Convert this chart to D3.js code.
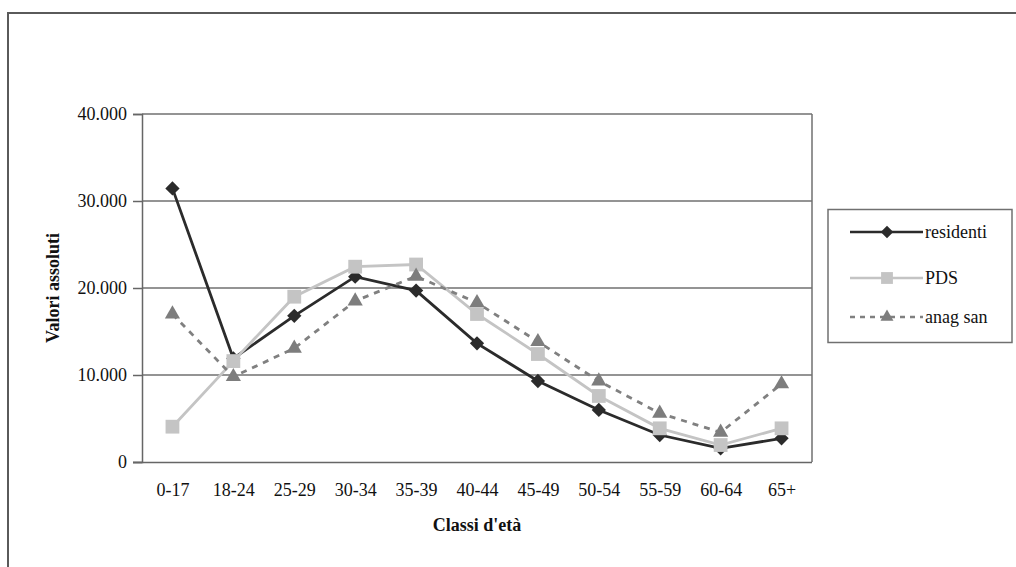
<!DOCTYPE html>
<html>
<head>
<meta charset="utf-8">
<script src="https://cdn.jsdelivr.net/npm/d3@7"></script>
<style>
  html, body { margin: 0; padding: 0; background: #fff; }
  svg { display: block; }
  text { font-family: "Liberation Serif", "Times New Roman", serif; fill: #111; }
</style>
</head>
<body>
<svg id="chart" width="1016" height="567"></svg>
<script>
// Age classes and the three population counts per class
const categories = ["0-17", "18-24", "25-29", "30-34", "35-39", "40-44", "45-49", "50-54", "55-59", "60-64", "65+"];
const residenti = [31450, 11900, 16800, 21300, 19700, 13640, 9310, 5980, 3100, 1570, 2720];
const pds       = [4060, 11600, 19000, 22450, 22700, 17010, 12410, 7590, 3870, 1950, 3870];
const anagSan   = [17000, 9800, 13070, 18500, 21350, 18310, 13830, 9310, 5600, 3410, 8970];
const yTicks = [0, 10000, 20000, 30000, 40000];
const seriesNames = ["residenti", "PDS", "anag san"];

const svg = d3.select("#chart");
const W = 1016, H = 567;
const FS = 18;

// frame around the whole chart
svg.append("rect")
  .attr("x", 8).attr("y", 13)
  .attr("width", W + 40).attr("height", H + 40)
  .attr("fill", "none").attr("stroke", "#5a5a5a").attr("stroke-width", 2);

const plot = { left: 142, right: 812, top: 114, bottom: 462 };

const x = d3.scalePoint()
  .domain(categories)
  .range([plot.left, plot.right])
  .padding(0.5);

const y = d3.scaleLinear()
  .domain([0, 40000])
  .range([plot.bottom, plot.top]);

const it = d3.formatLocale({ decimal: ",", thousands: ".", grouping: [3], currency: ["€", ""] });
const fmt = it.format(",.0f");

// horizontal gridlines
svg.append("g")
  .selectAll("line")
  .data(yTicks.filter(d => d > 0))
  .join("line")
  .attr("x1", plot.left).attr("x2", plot.right)
  .attr("y1", d => y(d)).attr("y2", d => y(d))
  .attr("stroke", "#707070").attr("stroke-width", 1.5);

// plot area right edge
svg.append("line")
  .attr("x1", plot.right).attr("x2", plot.right)
  .attr("y1", plot.top).attr("y2", plot.bottom)
  .attr("stroke", "#707070").attr("stroke-width", 1.5);

// y axis
const yAxis = d3.axisLeft(y).tickValues(yTicks).tickSize(9).tickPadding(6).tickFormat(fmt);
const gy = svg.append("g").attr("transform", `translate(${plot.left},0)`).call(yAxis);
gy.attr("font-family", null).attr("font-size", null);
gy.select(".domain").attr("stroke", "#666").attr("stroke-width", 1.5);
gy.selectAll(".tick line").attr("stroke", "#666").attr("stroke-width", 1.5);
gy.selectAll(".tick text").attr("font-size", FS).attr("fill", "#111");

// x axis
const xAxis = d3.axisBottom(x).tickSize(0).tickPadding(21);
const gx = svg.append("g").attr("transform", `translate(0,${plot.bottom})`).call(xAxis);
gx.attr("font-family", null).attr("font-size", null);
gx.select(".domain").attr("stroke", "#666").attr("stroke-width", 1.5)
  .attr("d", `M${plot.left - 9},0.5H${plot.right}`);
gx.selectAll(".tick text").attr("font-size", FS).attr("fill", "#111");

// axis titles
svg.append("text")
  .attr("x", (plot.left + plot.right) / 2).attr("y", 531)
  .attr("text-anchor", "middle")
  .attr("font-size", FS).attr("font-weight", "bold")
  .text("Classi d'età");

svg.append("text")
  .attr("transform", `translate(59,${(plot.top + plot.bottom) / 2}) rotate(-90)`)
  .attr("text-anchor", "middle")
  .attr("font-size", FS).attr("font-weight", "bold")
  .text("Valori assoluti");

// series definitions
const series = [
  { name: seriesNames[0], values: residenti, line: "#2b2b2b", fill: "#2b2b2b", dash: null, marker: "diamond" },
  { name: seriesNames[1], values: pds, line: "#c4c4c4", fill: "#c4c4c4", dash: null, marker: "square" },
  { name: seriesNames[2], values: anagSan, line: "#808080", fill: "#7d7d7d", dash: "6,6", marker: "triangle" }
];

const symbolFor = {
  diamond: d3.symbol().type(d3.symbolDiamond2).size(130),
  square: d3.symbol().type(d3.symbolSquare).size(190),
  triangle: d3.symbol().type(d3.symbolTriangle2).size(165)
};

const line = d3.line().x(d => x(d.cat)).y(d => y(d.v));

// draw each series: connecting line, then markers
series.forEach(s => {
  const pts = categories.map((c, i) => ({ cat: c, v: s.values[i] }));
  svg.append("path")
    .datum(pts)
    .attr("d", line)
    .attr("fill", "none")
    .attr("stroke", s.line)
    .attr("stroke-width", 2.8)
    .attr("stroke-dasharray", s.dash);
  svg.append("g")
    .selectAll("path")
    .data(pts)
    .join("path")
    .attr("transform", d => `translate(${x(d.cat)},${y(d.v)})`)
    .attr("d", symbolFor[s.marker])
    .attr("fill", s.fill);
});

// legend
const lg = svg.append("g");
lg.append("rect")
  .attr("x", 828).attr("y", 209.5)
  .attr("width", 184).attr("height", 133)
  .attr("fill", "#fff").attr("stroke", "#707070").attr("stroke-width", 1.5);

const legendY = [232, 278, 317];
const legendSym = {
  diamond: d3.symbol().type(d3.symbolDiamond2).size(100),
  square: d3.symbol().type(d3.symbolSquare).size(140),
  triangle: d3.symbol().type(d3.symbolTriangle2).size(120)
};
series.forEach((s, i) => {
  const yy = legendY[i];
  lg.append("line")
    .attr("x1", 850).attr("x2", 923)
    .attr("y1", yy).attr("y2", yy)
    .attr("stroke", s.line).attr("stroke-width", 2.4)
    .attr("stroke-dasharray", s.dash ? "5,5" : null);
  lg.append("path")
    .attr("transform", `translate(887,${yy})`)
    .attr("d", legendSym[s.marker])
    .attr("fill", s.fill);
  lg.append("text")
    .attr("x", 925).attr("y", yy)
    .attr("dy", "0.33em")
    .attr("font-size", FS)
    .text(s.name);
});
</script>
</body>
</html>
